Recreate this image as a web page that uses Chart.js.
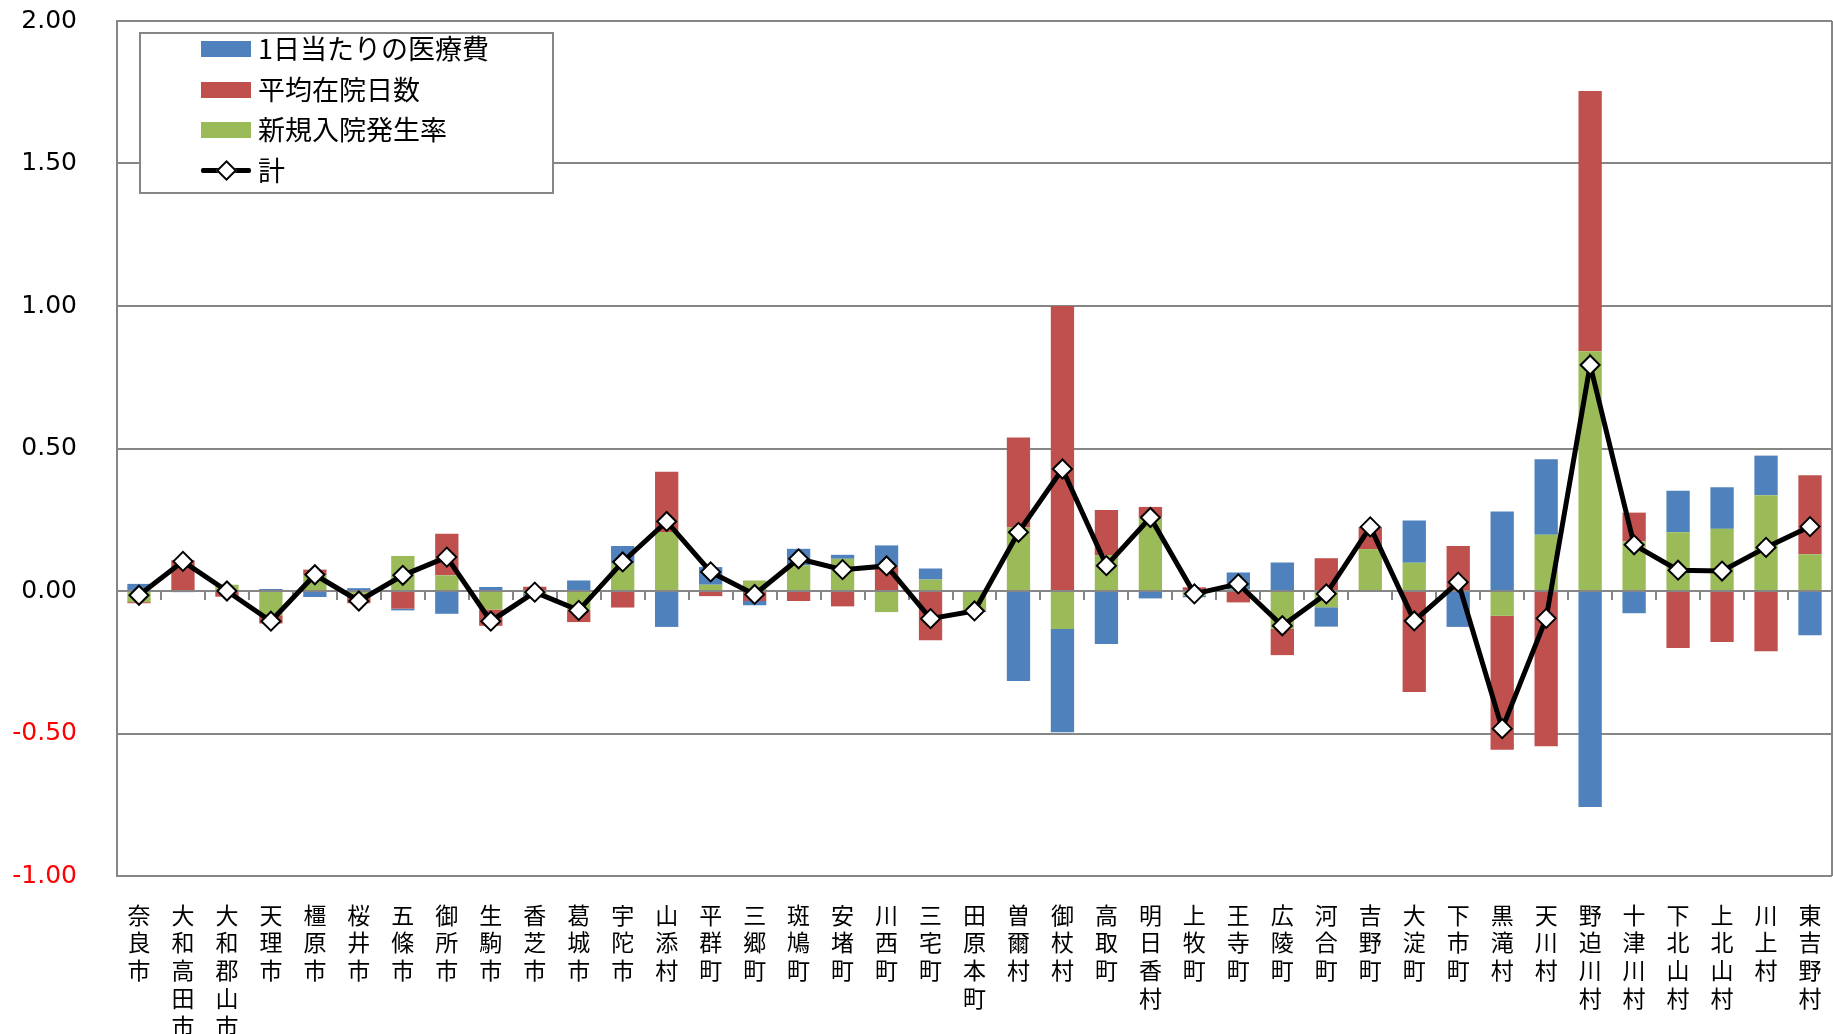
<!DOCTYPE html>
<html>
<head>
<meta charset="utf-8">
<script src="https://cdn.jsdelivr.net/npm/chart.js@4.4.1/dist/chart.umd.min.js"></script>
<style>
html, body { margin: 0; padding: 0; background: #fff; }
#wrap { position: relative; width: 1833px; height: 1034px; }
#legend { position: absolute; left: 139px; top: 32px; width: 415px; height: 162px; border: 2px solid #868686; background: #fff; box-sizing: border-box; font-family: 'Noto Sans CJK JP', sans-serif; font-size: 27px; color: #000; }
.item { position: absolute; left: 60px; height: 40px; line-height: 40px; white-space: nowrap; }
.sw { position: absolute; left: 0; top: 13px; width: 50px; height: 16px; }
.txt { position: absolute; left: 57px; top: 0; }
.ln { position: absolute; left: 0; top: 18px; width: 50px; height: 5px; background: #000; border-radius: 2px; }
.dm { position: absolute; left: 18px; top: 13px; width: 11px; height: 11px; background: #fff; border: 2px solid #000; transform: rotate(45deg); }
</style>
</head>
<body>
<div id="wrap">
  <canvas id="c" width="1833" height="1034"></canvas>
  <div id="legend"></div>
</div>
<script>
// 市町村
var categories = ['奈良市','大和高田市','大和郡山市','天理市','橿原市','桜井市','五條市','御所市','生駒市','香芝市',
  '葛城市','宇陀市','山添村','平群町','三郷町','斑鳩町','安堵町','川西町','三宅町','田原本町',
  '曽爾村','御杖村','高取町','明日香村','上牧町','王寺町','広陵町','河合町','吉野町','大淀町',
  '下市町','黒滝村','天川村','野迫川村','十津川村','下北山村','上北山村','川上村','東吉野村'];

// 新規入院発生率 (green)
var newAdmission = [-0.039, 0, 0.022, -0.085, 0.055, -0.01, 0.123, 0.055, -0.065, -0.01,
  -0.068, 0.096, 0.207, 0.022, 0.037, 0.09, 0.113, -0.074, 0.04, -0.068,
  0.223, -0.133, 0.126, 0.258, -0.016, 0.005, -0.133, -0.057, 0.147, 0.099,
  0, -0.087, 0.197, 0.841, 0.174, 0.206, 0.218, 0.336, 0.129];

// 平均在院日数 (red)
var avgStay = [-0.004, 0.108, -0.02, -0.029, 0.02, -0.033, -0.062, 0.146, -0.057, 0.015,
  -0.041, -0.058, 0.211, -0.018, -0.035, -0.035, -0.054, 0.084, -0.173, 0,
  0.316, 1.0, 0.158, 0.037, 0.013, -0.04, -0.092, 0.115, 0.078, -0.354,
  0.158, -0.47, -0.545, 0.913, 0.101, -0.2, -0.179, -0.211, 0.277];

// 1日当たりの医療費 (blue)
var dailyCost = [0.025, -0.004, 0, 0.007, -0.021, 0.01, -0.006, -0.08, 0.014, -0.008,
  0.037, 0.062, -0.126, 0.062, -0.015, 0.058, 0.014, 0.076, 0.039, -0.006,
  -0.316, -0.363, -0.186, -0.026, -0.006, 0.06, 0.1, -0.068, 0, 0.148,
  -0.126, 0.279, 0.265, -0.758, -0.078, 0.146, 0.146, 0.139, -0.155];

// 計 (line)
var total = [-0.015, 0.104, 0.0, -0.106, 0.057, -0.035, 0.055, 0.119, -0.106, -0.004,
  -0.068, 0.102, 0.244, 0.067, -0.012, 0.113, 0.075, 0.088, -0.097, -0.07,
  0.206, 0.428, 0.089, 0.258, -0.01, 0.025, -0.122, -0.01, 0.225, -0.105,
  0.031, -0.483, -0.096, 0.793, 0.162, 0.073, 0.07, 0.153, 0.226];

var BLUE = '#4F81BD', RED = '#C0504D', GREEN = '#9BBB59', GRID = '#868686';

// zero axis with small tick marks, drawn just before the line series
var axisDeco = {
  id: 'axisDeco',
  beforeDatasetDraw: function (chart, args) {
    if (args.index !== 3) return;
    var xs = chart.scales.x, ys = chart.scales.y, ctx = chart.ctx;
    var y0 = Math.round(ys.getPixelForValue(0));
    var step = xs.width / categories.length;
    ctx.save();
    ctx.strokeStyle = GRID;
    ctx.lineWidth = 2;
    ctx.beginPath();
    ctx.moveTo(xs.left, y0);
    ctx.lineTo(xs.right, y0);
    for (var i = 1; i < categories.length; i++) {
      var px = Math.round(xs.left + i * step);
      ctx.moveTo(px, y0);
      ctx.lineTo(px, y0 + 9);
    }
    ctx.stroke();
    ctx.restore();
  },
  afterDraw: function (chart) {
    var a = chart.chartArea, ctx = chart.ctx;
    ctx.save();
    ctx.strokeStyle = GRID;
    ctx.lineWidth = 2;
    ctx.beginPath();
    ctx.moveTo(a.right, a.top);
    ctx.lineTo(a.right, a.bottom);
    ctx.stroke();
    ctx.restore();
  }
};

var ctx = document.getElementById('c').getContext('2d');
var chart = new Chart(ctx, {
  type: 'bar',
  data: {
    labels: categories.map(function (n) { return n.split(''); }),
    datasets: [
      { label: '新規入院発生率', data: newAdmission, backgroundColor: GREEN, stack: 's', order: 1 },
      { label: '平均在院日数', data: avgStay, backgroundColor: RED, stack: 's', order: 1 },
      { label: '1日当たりの医療費', data: dailyCost, backgroundColor: BLUE, stack: 's', order: 1 },
      { type: 'line', label: '計', data: total, stack: 'line', order: 0,
        borderColor: '#000', borderWidth: 5, tension: 0,
        pointStyle: 'rectRot', pointRadius: 9.5, pointBackgroundColor: '#fff',
        pointBorderColor: '#000', pointBorderWidth: 2 }
    ]
  },
  options: {
    responsive: false,
    animation: false,
    categoryPercentage: 0.53,
    barPercentage: 1,
    layout: { autoPadding: false, padding: { top: 21, right: 1, left: 0, bottom: 0 } },
    plugins: { legend: { display: false }, tooltip: { enabled: false } },
    scales: {
      x: {
        stacked: true,
        grid: { display: false },
        border: { display: false },
        ticks: {
          autoSkip: false, maxRotation: 0, minRotation: 0, padding: 17,
          color: '#000',
          font: { family: "'Noto Sans CJK JP', sans-serif", size: 23, lineHeight: 1.21 }
        },
        afterFit: function (s) { s.height = 158; s.paddingLeft = 0; s.paddingRight = 0; }
      },
      y: {
        stacked: true,
        min: -1, max: 2,
        grid: { color: GRID, lineWidth: 2, drawTicks: false },
        border: { display: true, color: GRID, width: 2 },
        ticks: {
          stepSize: 0.5, padding: 40,
          font: { family: "'DejaVu Sans', Verdana, sans-serif", size: 25 },
          color: function (c) { return c.tick && c.tick.value < 0 ? '#FF0000' : '#000'; },
          callback: function (v) { return Number(v).toFixed(2); }
        },
        afterFit: function (s) { s.width = 117; s.paddingTop = 12; s.paddingBottom = 12; }
      }
    }
  },
  plugins: [axisDeco]
});

// legend in the order Excel shows it
var legendItems = [
  { text: '1日当たりの医療費', color: BLUE },
  { text: '平均在院日数', color: RED },
  { text: '新規入院発生率', color: GREEN },
  { text: '計', line: true }
];
var lg = document.getElementById('legend');
legendItems.forEach(function (it, i) {
  var d = document.createElement('div');
  d.className = 'item';
  d.style.top = (i * 40.5 - 6) + 'px';
  var mark = it.line
    ? '<div class="ln"></div><div class="dm"></div>'
    : '<div class="sw" style="background:' + it.color + '"></div>';
  d.innerHTML = mark + '<span class="txt">' + it.text + '</span>';
  lg.appendChild(d);
});
</script>
</body>
</html>
